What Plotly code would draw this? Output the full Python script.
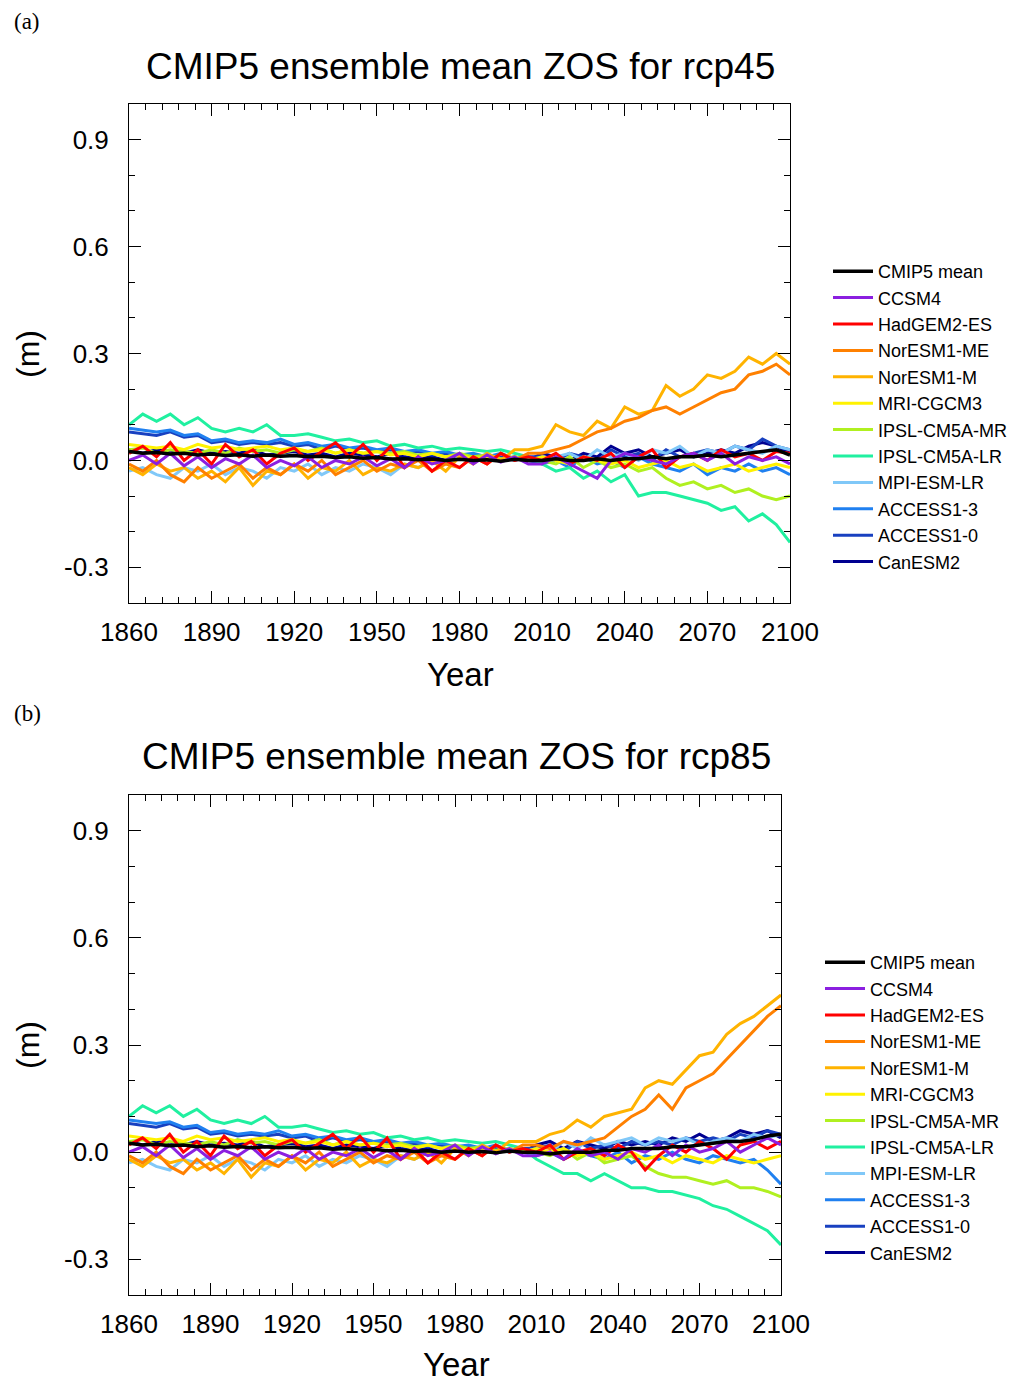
import plotly.graph_objects as go

# the page body has an 8px margin, so the figure is sized to fill the rest of the window
OFF = 8
W, H = 1035 - OFF, 1383 - OFF

# ---------------- data ----------------
MODELS = ["CMIP5 mean", "CCSM4", "HadGEM2-ES", "NorESM1-ME", "NorESM1-M", "MRI-CGCM3",
          "IPSL-CM5A-MR", "IPSL-CM5A-LR", "MPI-ESM-LR", "ACCESS1-3", "ACCESS1-0", "CanESM2"]

COLORS = ["#000000", "#8B1FE0", "#FF0000", "#FF8000", "#FFB300", "#FFF200",
          "#B0F020", "#20F0A0", "#80C8F8", "#2080F0", "#1840C0", "#000090"]

YEARS_HIST = [1860, 1865, 1870, 1875, 1880, 1885, 1890, 1895, 1900, 1905,
              1910, 1915, 1920, 1925, 1930, 1935, 1940, 1945, 1950, 1955,
              1960, 1965, 1970, 1975, 1980, 1985, 1990, 1995, 2000, 2005]
YEARS_SCEN = [2010, 2015, 2020, 2025, 2030, 2035, 2040, 2045, 2050, 2055,
              2060, 2065, 2070, 2075, 2080, 2085, 2090, 2095, 2100]

# historical period (shared by both panels)
hist_mean = [0.025, 0.02, 0.022, 0.018, 0.02, 0.015, 0.018, 0.014, 0.016, 0.012, 0.015, 0.012, 0.014, 0.01, 0.012,
             0.008, 0.01, 0.006, 0.008, 0.004, 0.005, 0.002, 0.004, 0.0, 0.003, 0.0, 0.002, -0.002, 0.003, 0.0]
hist_ccsm4 = [0.0, 0.015, -0.01, 0.02, -0.015, 0.01, -0.02, 0.005, -0.01, 0.015, -0.02, 0.0, -0.015, 0.01, -0.02,
              0.0, -0.01, 0.01, -0.015, 0.005, -0.02, 0.01, -0.01, 0.0, 0.02, -0.01, 0.015, -0.005, 0.01, -0.01]
hist_hadgem = [0.02, 0.04, 0.01, 0.05, 0.0, 0.03, -0.01, 0.045, 0.01, 0.03, -0.01, 0.02, 0.035, 0.0, 0.025,
               0.05, 0.01, 0.045, 0.0, 0.04, -0.02, 0.01, -0.03, 0.0, -0.02, 0.01, -0.01, 0.02, 0.0, 0.01]
hist_noresm_me = [-0.01, -0.03, 0.0, -0.04, -0.06, -0.02, -0.05, -0.03, -0.01, -0.05, -0.02, -0.04, -0.01, -0.03, 0.0,
                  -0.04, -0.02, 0.0, -0.03, -0.01, -0.02, 0.0, -0.03, -0.01, -0.02, 0.01, -0.01, 0.02, 0.0, 0.02]
hist_noresm_m = [-0.02, -0.04, -0.01, -0.03, -0.02, -0.05, -0.03, -0.06, -0.02, -0.07, -0.03, -0.04, -0.01, -0.05, -0.02,
                 -0.03, 0.0, -0.04, -0.02, -0.03, -0.01, -0.02, 0.0, -0.03, 0.01, -0.01, 0.02, 0.0, 0.03, 0.03]
hist_mri = [0.045, 0.04, 0.035, 0.04, 0.03, 0.045, 0.035, 0.04, 0.03, 0.035, 0.04, 0.03, 0.035, 0.025, 0.03,
            0.02, 0.03, 0.02, 0.025, 0.015, 0.02, 0.01, 0.02, 0.01, 0.015, 0.005, 0.01, 0.0, 0.01, 0.0]
hist_ipsl_mr = [0.03, 0.035, 0.02, 0.03, 0.025, 0.02, 0.03, 0.02, 0.035, 0.025, 0.03, 0.02, 0.03, 0.025, 0.035,
                0.02, 0.03, 0.02, 0.025, 0.02, 0.025, 0.015, 0.02, 0.01, 0.02, 0.01, 0.015, 0.005, 0.01, 0.0]
hist_ipsl_lr = [0.10, 0.13, 0.11, 0.13, 0.10, 0.12, 0.09, 0.08, 0.09, 0.08, 0.10, 0.07, 0.07, 0.075, 0.065,
                0.055, 0.06, 0.05, 0.055, 0.04, 0.045, 0.035, 0.04, 0.03, 0.035, 0.03, 0.025, 0.03, 0.02, 0.01]
hist_mpi = [-0.03, -0.02, -0.04, -0.05, -0.02, -0.03, -0.01, -0.04, -0.02, -0.03, -0.05, -0.02, -0.03, -0.01, -0.04,
            -0.02, -0.03, -0.01, -0.02, -0.04, -0.01, -0.02, 0.0, -0.01, 0.01, 0.0, 0.02, 0.0, 0.01, 0.0]
hist_access13 = [0.09, 0.085, 0.08, 0.085, 0.07, 0.075, 0.055, 0.06, 0.05, 0.055, 0.05, 0.06, 0.045, 0.05, 0.04,
                 0.045, 0.035, 0.04, 0.03, 0.035, 0.025, 0.03, 0.02, 0.025, 0.015, 0.02, 0.01, 0.02, 0.005, 0.0]
hist_access10 = [0.08, 0.075, 0.07, 0.08, 0.065, 0.07, 0.05, 0.055, 0.045, 0.05, 0.045, 0.05, 0.04, 0.045, 0.03,
                 0.04, 0.03, 0.035, 0.025, 0.03, 0.02, 0.025, 0.015, 0.02, 0.01, 0.015, 0.005, 0.01, 0.0, 0.01]
hist_canesm = [0.03, 0.02, 0.03, 0.025, 0.02, 0.03, 0.02, 0.025, 0.02, 0.03, 0.015, 0.02, 0.025, 0.015, 0.02,
               0.01, 0.02, 0.015, 0.01, 0.02, 0.01, 0.005, 0.01, 0.0, 0.01, 0.0, 0.005, 0.0, 0.01, 0.0]

# rcp45 scenario period
rcp45_mean = [0.0, 0.005, 0.0, 0.0, 0.005, 0.0, 0.005, 0.005, 0.01, 0.005, 0.01, 0.01, 0.015, 0.01, 0.015, 0.02, 0.025, 0.03, 0.015]
rcp45_ccsm4 = [-0.01, 0.01, -0.01, -0.03, -0.05, 0.0, 0.02, 0.01, 0.0, -0.01, 0.01, 0.02, 0.0, 0.02, -0.01, 0.01, 0.0, 0.01, -0.01]
rcp45_hadgem = [0.0, 0.02, -0.01, 0.01, 0.0, 0.02, -0.02, 0.01, 0.03, -0.02, 0.01, 0.02, 0.0, 0.03, 0.01, 0.02, 0.0, 0.025, 0.02]
rcp45_noresm_me = [0.02, 0.03, 0.04, 0.06, 0.08, 0.09, 0.11, 0.12, 0.14, 0.15, 0.13, 0.15, 0.17, 0.19, 0.20, 0.24, 0.25, 0.27, 0.24]
rcp45_noresm_m = [0.04, 0.10, 0.08, 0.07, 0.11, 0.09, 0.15, 0.13, 0.14, 0.21, 0.18, 0.20, 0.24, 0.23, 0.25, 0.29, 0.27, 0.30, 0.27]
rcp45_mri = [0.01, 0.0, -0.01, 0.01, 0.0, -0.01, 0.0, -0.02, -0.01, 0.0, -0.02, -0.01, -0.03, -0.02, -0.01, -0.03, -0.02, -0.01, -0.02]
rcp45_ipsl_mr = [0.0, -0.01, 0.01, -0.02, 0.0, -0.02, -0.01, -0.03, -0.02, -0.05, -0.07, -0.06, -0.08, -0.07, -0.09, -0.08, -0.10, -0.11, -0.10]
rcp45_ipsl_lr = [-0.01, -0.03, -0.02, -0.05, -0.03, -0.06, -0.04, -0.10, -0.09, -0.09, -0.10, -0.11, -0.12, -0.14, -0.13, -0.17, -0.15, -0.18, -0.23]
rcp45_mpi = [0.0, 0.01, 0.02, 0.0, 0.03, 0.01, 0.02, 0.0, 0.03, 0.02, 0.04, 0.01, 0.03, 0.02, 0.04, 0.03, 0.02, 0.04, 0.03]
rcp45_access13 = [-0.01, 0.0, -0.02, 0.01, -0.01, 0.0, -0.02, 0.01, -0.01, -0.02, -0.03, -0.01, -0.04, -0.02, -0.03, -0.01, -0.03, -0.02, -0.04]
rcp45_access10 = [0.01, 0.0, 0.02, 0.01, 0.0, 0.03, 0.01, 0.02, 0.0, 0.03, 0.01, 0.02, 0.03, 0.02, 0.04, 0.03, 0.06, 0.04, 0.03]
rcp45_canesm = [0.02, 0.01, 0.0, 0.02, 0.01, 0.04, 0.02, 0.03, 0.01, 0.02, 0.03, 0.01, 0.02, 0.03, 0.02, 0.04, 0.05, 0.04, 0.02]

# rcp85 scenario period
rcp85_mean = [0.0, -0.005, 0.0, 0.0, 0.0, 0.005, 0.005, 0.01, 0.01, 0.01, 0.015, 0.015, 0.02, 0.025, 0.03, 0.03, 0.035, 0.045, 0.05]
rcp85_ccsm4 = [-0.01, 0.0, -0.02, 0.01, -0.01, 0.0, -0.02, 0.01, 0.0, 0.02, -0.01, 0.02, 0.0, 0.01, 0.03, 0.0, 0.02, 0.04, 0.02]
rcp85_hadgem = [0.0, 0.02, -0.02, 0.0, 0.01, -0.01, 0.02, 0.0, -0.05, -0.01, 0.02, 0.0, 0.03, 0.01, -0.02, 0.02, 0.03, 0.01, 0.03]
rcp85_noresm_me = [0.02, 0.01, 0.03, 0.02, 0.03, 0.04, 0.07, 0.10, 0.12, 0.16, 0.12, 0.18, 0.20, 0.22, 0.26, 0.30, 0.34, 0.38, 0.41]
rcp85_noresm_m = [0.03, 0.05, 0.06, 0.09, 0.07, 0.10, 0.11, 0.12, 0.18, 0.20, 0.19, 0.23, 0.27, 0.28, 0.33, 0.36, 0.38, 0.41, 0.44]
rcp85_mri = [0.01, 0.0, 0.01, -0.01, 0.0, -0.02, -0.01, 0.0, -0.02, -0.01, -0.03, -0.01, -0.02, -0.03, -0.01, -0.02, -0.03, -0.02, -0.01]
rcp85_ipsl_mr = [0.0, -0.01, 0.01, -0.02, 0.0, -0.03, -0.02, -0.01, -0.04, -0.06, -0.07, -0.07, -0.08, -0.09, -0.08, -0.10, -0.10, -0.11, -0.125]
rcp85_ipsl_lr = [-0.02, -0.04, -0.06, -0.06, -0.08, -0.06, -0.08, -0.10, -0.10, -0.11, -0.11, -0.12, -0.13, -0.15, -0.16, -0.18, -0.20, -0.22, -0.26]
rcp85_mpi = [0.01, 0.0, 0.03, 0.01, 0.04, 0.02, 0.03, 0.04, 0.02, 0.04, 0.03, 0.04, 0.02, 0.03, 0.04, 0.03, 0.05, 0.04, 0.05]
rcp85_access13 = [-0.01, 0.0, -0.02, 0.0, -0.01, -0.02, 0.0, -0.03, -0.01, -0.02, 0.0, -0.02, -0.03, -0.01, -0.02, -0.03, -0.02, -0.05, -0.09]
rcp85_access10 = [0.01, 0.02, 0.0, 0.03, 0.01, 0.02, 0.01, 0.03, 0.02, 0.03, 0.02, 0.04, 0.03, 0.04, 0.03, 0.05, 0.04, 0.06, 0.05]
rcp85_canesm = [0.02, 0.03, 0.01, 0.03, 0.02, 0.01, 0.03, 0.02, 0.03, 0.02, 0.04, 0.03, 0.05, 0.03, 0.04, 0.06, 0.05, 0.06, 0.04]

HIST = [hist_mean, hist_ccsm4, hist_hadgem, hist_noresm_me, hist_noresm_m, hist_mri,
        hist_ipsl_mr, hist_ipsl_lr, hist_mpi, hist_access13, hist_access10, hist_canesm]
RCP45 = [rcp45_mean, rcp45_ccsm4, rcp45_hadgem, rcp45_noresm_me, rcp45_noresm_m, rcp45_mri,
         rcp45_ipsl_mr, rcp45_ipsl_lr, rcp45_mpi, rcp45_access13, rcp45_access10, rcp45_canesm]
RCP85 = [rcp85_mean, rcp85_ccsm4, rcp85_hadgem, rcp85_noresm_me, rcp85_noresm_m, rcp85_mri,
         rcp85_ipsl_mr, rcp85_ipsl_lr, rcp85_mpi, rcp85_access13, rcp85_access10, rcp85_canesm]

X_TICKS = [1860, 1890, 1920, 1950, 1980, 2010, 2040, 2070, 2100]
Y_TICKS = [-0.3, 0.0, 0.3, 0.6, 0.9]
Y_TICKTEXT = ["-0.3", "0.0", "0.3", "0.6", "0.9"]

PANEL_TITLES = ["CMIP5 ensemble mean ZOS for rcp45", "CMIP5 ensemble mean ZOS for rcp85"]
PANEL_TAGS = ["(a)", "(b)"]

# ---------------- figure ----------------
FONT = "Liberation Sans, Arial, Helvetica, sans-serif"


def px_x(p):  # window pixel -> figure fraction
    return (p - OFF) / W


def px_y(p):
    return 1 - (p - OFF) / H


fig = go.Figure()

panels = [
    dict(scen=RCP45, xa="x", ya="y", legend="legend",
         xdom=[px_x(129), px_x(790)], ydom=[px_y(603), px_y(104)]),
    dict(scen=RCP85, xa="x2", ya="y2", legend="legend2",
         xdom=[px_x(129), px_x(781)], ydom=[px_y(1295), px_y(795)]),
]

for p in panels:
    order = list(range(len(MODELS) - 1, 0, -1)) + [0]  # models first, mean on top
    for i in order:
        fig.add_trace(go.Scatter(
            x=YEARS_HIST + YEARS_SCEN,
            y=HIST[i] + p["scen"][i],
            mode="lines",
            name=MODELS[i],
            line=dict(color=COLORS[i], width=3.5 if i == 0 else 3),
            xaxis=p["xa"], yaxis=p["ya"],
            legend=p["legend"],
            legendrank=i + 1,
        ))

axis_common = dict(
    showline=True, linecolor="black", linewidth=1, mirror="ticks",
    ticks="inside", tickcolor="black", showgrid=False, zeroline=False,
    automargin=False,
    tickfont=dict(family=FONT, size=26, color="black"),
)

layout = dict(
    width=W, height=H,
    margin=dict(l=0, r=0, t=0, b=0, pad=0, autoexpand=False),
    paper_bgcolor="white", plot_bgcolor="white",
    showlegend=True,
)

for k, p in enumerate(panels):
    sx = "" if k == 0 else "2"
    layout["xaxis" + sx] = dict(
        axis_common, domain=p["xdom"], range=[1860, 2100], anchor="y" + sx,
        tickvals=X_TICKS, ticklen=12, tickwidth=1, ticklabelstandoff=6,
        minor=dict(ticks="inside", dtick=6, tick0=1860, ticklen=6, tickcolor="black", showgrid=False),
    )
    layout["yaxis" + sx] = dict(
        axis_common, domain=p["ydom"], range=[-0.4, 1.0], anchor="x" + sx,
        tickvals=Y_TICKS, ticktext=Y_TICKTEXT, ticklen=12, tickwidth=1, ticklabelstandoff=14,
        minor=dict(ticks="inside", dtick=0.1, tick0=0, ticklen=6, tickcolor="black", showgrid=False),
    )

leg_common = dict(
    font=dict(family=FONT, size=18, color="black"),
    bgcolor="rgba(0,0,0,0)", borderwidth=0,
    xref="container", yref="container",
    xanchor="left", yanchor="top", tracegroupgap=0, itemwidth=40,
)
layout["legend"] = dict(leg_common, x=px_x(828), y=px_y(253))
layout["legend2"] = dict(leg_common, x=px_x(820), y=px_y(944))

fig.update_layout(**layout)

annos = []
title_pos = [(460, 66), (456, 756)]
tag_pos = [(27, 22), (27, 713)]
ylab_pos = [(28, 354), (28, 1045)]
year_pos = [(460, 675), (456, 1364)]
for k in range(2):
    annos.append(dict(text=PANEL_TITLES[k], x=px_x(title_pos[k][0]), y=px_y(title_pos[k][1]),
                      xref="paper", yref="paper", showarrow=False, xanchor="center", yanchor="middle",
                      font=dict(family=FONT, size=37, color="black")))
    annos.append(dict(text=PANEL_TAGS[k], x=px_x(tag_pos[k][0]), y=px_y(tag_pos[k][1]),
                      xref="paper", yref="paper", showarrow=False, xanchor="center", yanchor="middle",
                      font=dict(family="Liberation Serif, DejaVu Serif, serif", size=23, color="black")))
    annos.append(dict(text="(m)", x=px_x(ylab_pos[k][0]), y=px_y(ylab_pos[k][1]),
                      xref="paper", yref="paper", showarrow=False, xanchor="center", yanchor="middle",
                      textangle=-90, font=dict(family=FONT, size=32, color="black")))
    annos.append(dict(text="Year", x=px_x(year_pos[k][0]), y=px_y(year_pos[k][1]),
                      xref="paper", yref="paper", showarrow=False, xanchor="center", yanchor="middle",
                      font=dict(family=FONT, size=33, color="black")))
fig.update_layout(annotations=annos)

fig.write_html("out.html")
